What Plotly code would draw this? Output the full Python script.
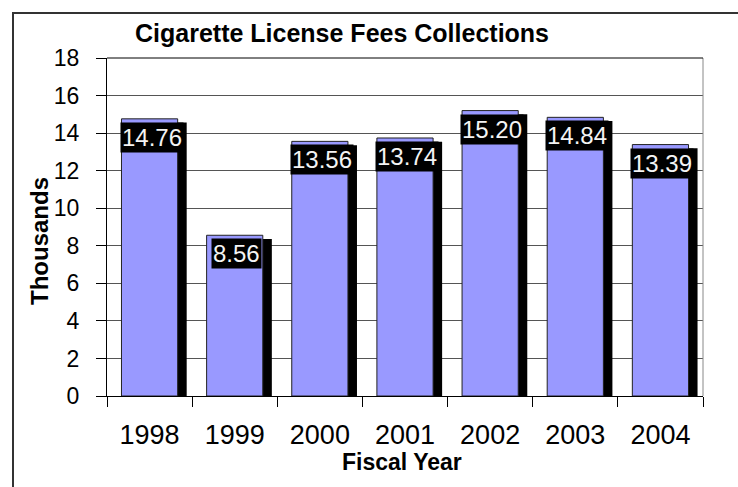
import plotly.graph_objects as go

years = ["1998", "1999", "2000", "2001", "2002", "2003", "2004"]
values = [14.76, 8.56, 13.56, 13.74, 15.20, 14.84, 13.39]
labels = ["14.76", "8.56", "13.56", "13.74", "15.20", "14.84", "13.39"]
y_ticks = [0, 2, 4, 6, 8, 10, 12, 14, 16, 18]

FONT = "Arial, Liberation Sans, sans-serif"
W, H = 738, 487
L, R, T, B = 107, 35, 58, 91
PW, PH = W - L - R, H - T - B

def px_x(px):
    return (px - L) / PW

def px_y(py):
    return (H - B - py) / PH

shadow_drop = 0.2  # shadow sits slightly lower than the bar top

fig = go.Figure()
fig.add_trace(go.Bar(
    x=years, y=[v - shadow_drop for v in values],
    width=0.66, offset=-0.224,
    marker=dict(color="black", line=dict(width=0)),
    hoverinfo="skip", showlegend=False,
))
fig.add_trace(go.Bar(
    x=years, y=values,
    width=0.66, offset=-0.33,
    marker=dict(color="#9999FF", line=dict(color="#222222", width=1)),
    showlegend=False,
))

for i, (v, lab) in enumerate(zip(values, labels)):
    fig.add_annotation(
        x=i, y=v, xref="x", yref="y", text=lab, showarrow=False,
        yanchor="top", yshift=-3, xshift=2,
        bgcolor="black", borderpad=1,
        font=dict(family=FONT, size=24, color="#f4f4f4"),
    )

# chart title
fig.add_annotation(
    x=px_x(342), y=px_y(33), xref="paper", yref="paper",
    text="<b>Cigarette License Fees Collections</b>", showarrow=False,
    xanchor="center", yanchor="middle",
    font=dict(family=FONT, size=25, color="black"),
)
# y axis title
fig.add_annotation(
    x=px_x(39), y=px_y(241), xref="paper", yref="paper",
    text="<b>Thousands</b>", showarrow=False, textangle=-90,
    xanchor="center", yanchor="middle",
    font=dict(family=FONT, size=24, color="black"),
)
# x axis title
fig.add_annotation(
    x=px_x(402), y=px_y(462), xref="paper", yref="paper",
    text="<b>Fiscal Year</b>", showarrow=False,
    xanchor="center", yanchor="middle",
    font=dict(family=FONT, size=23, color="black"),
)

# outer frame
fig.add_shape(type="rect", xref="paper", yref="paper",
              x0=px_x(13), x1=px_x(760), y0=px_y(510), y1=px_y(13),
              line=dict(color="#333333", width=2), layer="below")
# right border of plot area
fig.add_shape(type="line", xref="paper", yref="paper",
              x0=1, x1=1, y0=0, y1=1,
              line=dict(color="#888888", width=1))
# top border
fig.add_shape(type="line", xref="paper", yref="paper",
              x0=0, x1=1, y0=1, y1=1,
              line=dict(color="black", width=1))

fig.update_layout(
    width=W, height=H,
    margin=dict(l=L, r=R, t=T, b=B, pad=0),
    paper_bgcolor="white", plot_bgcolor="white",
    barmode="overlay",
    showlegend=False,
    font=dict(family=FONT, color="black"),
    xaxis=dict(
        type="category", tickson="boundaries",
        ticks="outside", ticklen=10, tickcolor="black", tickwidth=1,
        showline=True, linecolor="black", linewidth=1,
        showgrid=False, zeroline=False,
        tickfont=dict(family=FONT, size=27, color="black"),
        ticklabelstandoff=15,
        range=[-0.5, 6.5],
    ),
    yaxis=dict(
        range=[0, 18], tickvals=y_ticks,
        ticks="outside", ticklen=10, tickcolor="black", tickwidth=1,
        showline=True, linecolor="black", linewidth=1,
        showgrid=True, gridcolor="#555555", gridwidth=1,
        zeroline=False,
        tickfont=dict(family=FONT, size=23, color="black"),
        ticklabelstandoff=12,
    ),
)

fig.write_html("out.html", config={"displayModeBar": False},
               post_script="document.body.style.margin='0';")
